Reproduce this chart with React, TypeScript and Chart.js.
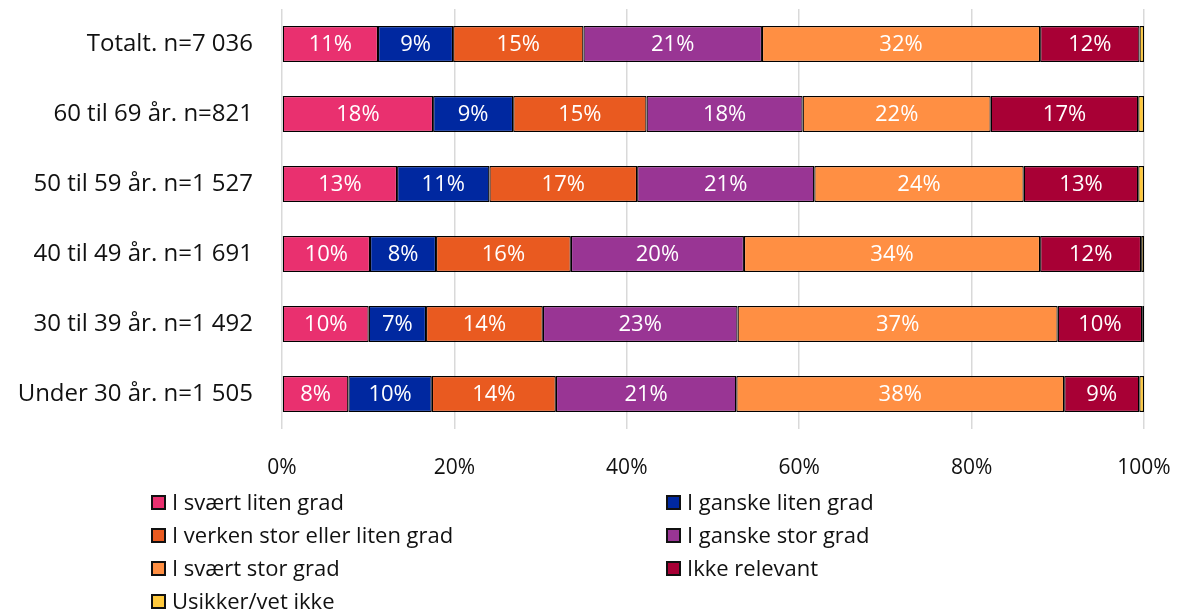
import React, { useEffect, useRef } from "react";
import { Chart, registerables } from "chart.js";

Chart.register(...registerables);

const categories = [
  "Totalt. n=7 036",
  "60 til 69 år. n=821",
  "50 til 59 år. n=1 527",
  "40 til 49 år. n=1 691",
  "30 til 39 år. n=1 492",
  "Under 30 år. n=1 505",
];

const seriesNames = [
  "I svært liten grad",
  "I ganske liten grad",
  "I verken stor eller liten grad",
  "I ganske stor grad",
  "I svært stor grad",
  "Ikke relevant",
  "Usikker/vet ikke",
];

const seriesColors = ["#E9306F", "#0028A0", "#E95A20", "#993594", "#FF8F43", "#A80035", "#FFC93C"];

const sSvaertLiten = [11.14, 17.53, 13.35, 10.21, 10.06, 7.7];
const sGanskeLiten = [8.71, 9.29, 10.71, 7.66, 6.65, 9.68];
const sVerken = [15.12, 15.47, 17.14, 15.64, 13.55, 14.39];
const sGanskeStor = [20.71, 18.11, 20.55, 20.08, 22.59, 20.93];
const sSvaertStor = [32.27, 21.82, 24.3, 34.36, 37.14, 38.04];
const sIkkeRelevant = [11.53, 17.11, 13.28, 11.72, 9.8, 8.71];
const sUsikker = [0.52, 0.67, 0.67, 0.33, 0.21, 0.55];

const seriesValues = [sSvaertLiten, sGanskeLiten, sVerken, sGanskeStor, sSvaertStor, sIkkeRelevant, sUsikker];

const xTickValues = [0, 20, 40, 60, 80, 100];

const FONT = "'Open Sans', sans-serif";

const valueLabelPlugin = {
  id: "valueLabels",
  afterDatasetsDraw(chart: any) {
    const ctx = chart.ctx;
    ctx.save();
    ctx.font = `22px ${FONT}`;
    ctx.fillStyle = "#ffffff";
    ctx.textAlign = "center";
    ctx.textBaseline = "middle";
    chart.data.datasets.forEach((ds: any, di: number) => {
      const meta = chart.getDatasetMeta(di);
      meta.data.forEach((el: any, i: number) => {
        const v = ds.data[i];
        if (v < 3) return;
        const cx = (el.x + el.base) / 2;
        ctx.fillText(Math.round(v) + "%", cx, el.y + 1);
      });
    });
    ctx.restore();
  },
};

const gridLegendPlugin = {
  id: "gridLegend",
  afterDraw(chart: any) {
    const ctx = chart.ctx;
    const bottom = chart.chartArea.bottom;
    const colX = [151, 666];
    const rowOffsets = [73.5, 106.5, 139.5, 172.5];
    const box = 15;
    ctx.save();
    ctx.font = `22px ${FONT}`;
    ctx.textAlign = "left";
    ctx.textBaseline = "middle";
    chart.data.datasets.forEach((ds: any, i: number) => {
      const col = i % 2;
      const row = Math.floor(i / 2);
      const x = colX[col];
      const y = bottom + rowOffsets[row];
      ctx.fillStyle = ds.backgroundColor;
      ctx.fillRect(x, y - box / 2, box, box);
      ctx.lineWidth = 2;
      ctx.strokeStyle = "#111";
      ctx.strokeRect(x + 1, y - box / 2 + 1, box - 2, box - 2);
      ctx.fillStyle = "#111";
      ctx.fillText(ds.label, x + box + 6, y + 1);
    });
    ctx.restore();
  },
};

export default function App() {
  const canvasRef = useRef<HTMLCanvasElement | null>(null);

  useEffect(() => {
    if (!canvasRef.current) return;
    Chart.defaults.font.family = FONT;
    Chart.defaults.color = "#111";
    const chart = new Chart(canvasRef.current, {
      type: "bar",
      data: {
        labels: categories,
        datasets: seriesNames.map((name, i) => ({
          label: name,
          data: seriesValues[i],
          backgroundColor: seriesColors[i],
          borderColor: "#000",
          borderWidth: 1.25,
          borderSkipped: false,
          categoryPercentage: 1,
          barPercentage: 36 / 70,
        })),
      },
      options: {
        indexAxis: "y",
        animation: false,
        responsive: true,
        maintainAspectRatio: false,
        layout: { padding: { top: 9, right: 36, left: 0, bottom: 122 } },
        plugins: {
          legend: { display: false },
          tooltip: { enabled: false },
        },
        scales: {
          x: {
            stacked: true,
            min: 0,
            max: 100,
            afterBuildTicks: (scale: any) => {
              scale.ticks = xTickValues.map((v) => ({ value: v }));
            },
            afterFit: (scale: any) => {
              scale.height = 60;
              scale.paddingLeft = 0;
              scale.paddingRight = 0;
            },
            ticks: {
              callback: (v: any) => v + "%",
              font: { size: 21, family: FONT },
              color: "#111",
              padding: 26,
              maxRotation: 0,
            },
            grid: { color: "#d9d9d9", lineWidth: 1.5, drawTicks: false },
            border: { display: false },
          },
          y: {
            stacked: true,
            afterFit: (scale: any) => {
              scale.width = 282;
              scale.paddingTop = 0;
              scale.paddingBottom = 0;
            },
            ticks: {
              font: { size: 24, family: FONT },
              color: "#111",
              padding: 29,
            },
            grid: { display: false, drawTicks: false },
            border: { display: false },
          },
        },
      },
      plugins: [valueLabelPlugin, gridLegendPlugin],
    });
    return () => chart.destroy();
  }, []);

  return (
    <div style={{ position: "absolute", left: 0, top: 0, width: 1180, height: 611 }}>
      <canvas ref={canvasRef} />
    </div>
  );
}
